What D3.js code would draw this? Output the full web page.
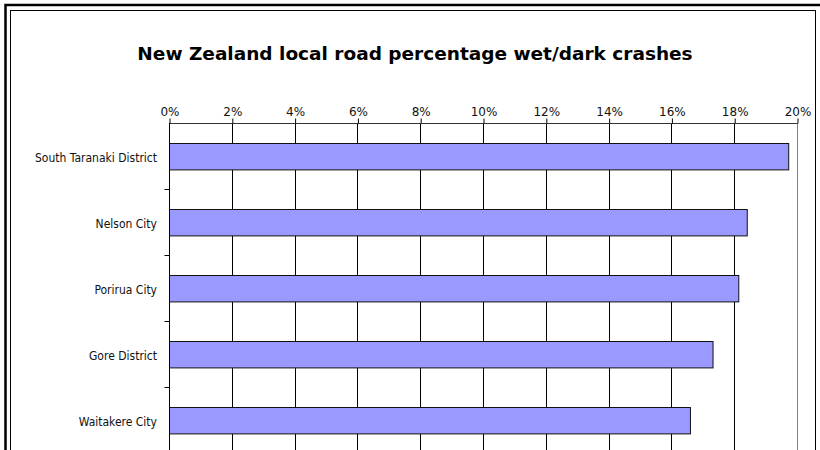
<!DOCTYPE html>
<html>
<head>
<meta charset="utf-8">
<script src="https://cdn.jsdelivr.net/npm/d3@7"></script>
<style>
  body { margin: 0; background: #fff; }
  svg { display: block; }
</style>
</head>
<body>
<div id="chart"></div>
<script>
// data
var districts = ["South Taranaki District", "Nelson City", "Porirua City", "Gore District", "Waitakere City"];
var wetDark = [0.1972, 0.1840, 0.1813, 0.1731, 0.1659];
var xTicks = [0, 0.02, 0.04, 0.06, 0.08, 0.10, 0.12, 0.14, 0.16, 0.18, 0.20];

var width = 820, height = 450;
var plotLeft = 169, plotRight = 797, plotTop = 123, band = 66;

var svg = d3.select("#chart").append("svg")
    .attr("width", width)
    .attr("height", height);

// double frame
svg.append("rect")
    .attr("x", 5.5).attr("y", 5)
    .attr("width", 820).attr("height", 500)
    .style("fill", "none").style("stroke", "#000").style("stroke-width", 2.5);
svg.append("rect")
    .attr("x", 10.5).attr("y", 10.5)
    .attr("width", 805).attr("height", 500)
    .style("fill", "#fff").style("stroke", "#000").style("stroke-width", 1);

svg.append("text")
    .attr("x", 415)
    .attr("y", 60)
    .attr("text-anchor", "middle")
    .style("font-family", "DejaVu Sans, Verdana, sans-serif")
    .style("font-weight", "bold")
    .style("font-size", "18.5px")
    .text("New Zealand local road percentage wet/dark crashes");

var x = d3.scaleLinear().domain([0, 0.20]).range([plotLeft, plotRight]);
var y = d3.scaleBand().domain(districts)
    .range([plotTop, plotTop + band * districts.length])
    .paddingInner(0.6).paddingOuter(0.3);
var yOuter = d3.scaleBand().domain(districts).range([plotTop, plotTop + band * districts.length]);

// gridlines
svg.append("g").selectAll("line")
    .data(xTicks.slice(1))
    .enter().append("line")
    .attr("x1", function(d) { return Math.round(x(d)) + 0.5; })
    .attr("x2", function(d) { return Math.round(x(d)) + 0.5; })
    .attr("y1", plotTop).attr("y2", height)
    .style("stroke", function(d, i) { return i === xTicks.length - 2 ? "#808080" : "#000"; })
    .style("stroke-width", 1);

// bars
svg.append("g").selectAll("rect")
    .data(districts)
    .enter().append("rect")
    .attr("x", plotLeft + 0.5)
    .attr("y", function(d) { return Math.round(y(d)) + 0.5; })
    .attr("width", function(d, i) { return x(wetDark[i]) - plotLeft; })
    .attr("height", y.bandwidth())
    .style("fill", "#9999ff")
    .style("stroke", "#111")
    .style("stroke-width", 1);

// top value axis
var xAxis = d3.axisTop(x)
    .tickValues(xTicks)
    .tickFormat(d3.format(".0%"))
    .tickSize(5)
    .tickPadding(3);

var gx = svg.append("g")
    .attr("transform", "translate(0.5," + (plotTop + 0.5) + ")")
    .call(xAxis);
gx.select(".domain").attr("d", "M" + plotLeft + ",0H" + plotRight).style("stroke", "#333");
gx.selectAll(".tick line").style("stroke", "#000");
gx.selectAll("text")
    .style("font-family", "DejaVu Sans, Verdana, sans-serif")
    .style("font-size", "12px")
    .style("fill", "#111");

// category axis
var yAxis = d3.axisLeft(yOuter).tickSize(0).tickFormat("");
var gy = svg.append("g")
    .attr("transform", "translate(" + (plotLeft + 0.5) + ",0)")
    .call(yAxis);
gy.select(".domain").attr("d", "M0," + plotTop + "V" + height).style("stroke", "#000");

gy.selectAll(".cat-tick")
    .data(districts.slice(1))
    .enter().append("line")
    .attr("class", "cat-tick")
    .attr("x1", -5).attr("x2", 0)
    .attr("y1", function(d) { return Math.round(yOuter(d)) + 0.5; })
    .attr("y2", function(d) { return Math.round(yOuter(d)) + 0.5; })
    .style("stroke", "#000");

svg.append("g").selectAll("text")
    .data(districts)
    .enter().append("text")
    .attr("x", 157)
    .attr("y", function(d) { return y(d) + y.bandwidth() / 2 + 2; })
    .attr("dy", "0.35em")
    .attr("text-anchor", "end")
    .style("font-family", "DejaVu Sans Condensed, Tahoma, sans-serif")
    .style("font-size", "12px")
    .style("fill", "#111")
    .text(function(d) { return d; });
</script>
</body>
</html>
